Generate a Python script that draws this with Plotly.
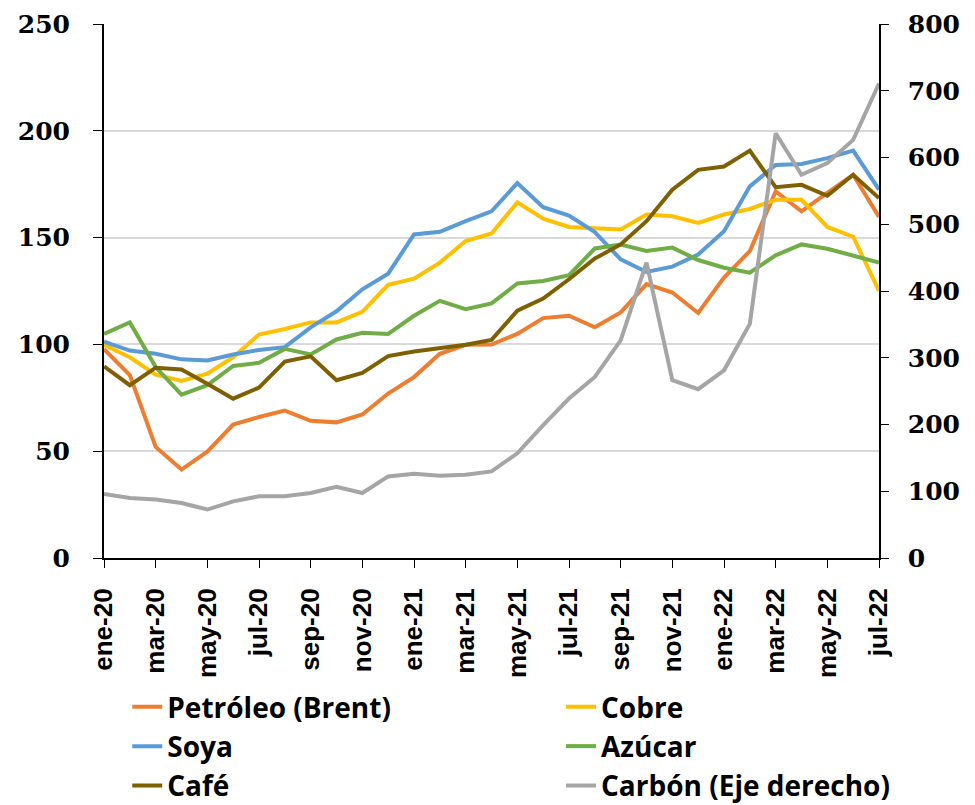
import plotly.graph_objects as go

months = ["ene", "feb", "mar", "abr", "may", "jun", "jul", "ago", "sep", "oct", "nov", "dic"]
categories = [f"{m}-{y}" for y in ["20", "21", "22"] for m in months][:31]

petroleo = [97.8, 85.6, 52.0, 41.4, 49.8, 62.5, 66.0, 69.0, 64.2, 63.5, 67.2, 77.0, 84.7, 95.6, 99.8, 99.9,
            104.9, 112.3, 113.4, 108.0, 115.0, 128.2, 124.3, 114.7, 131.3, 143.7, 171.6, 162.3, 170.9, 179.4, 159.7]
cobre = [99.8, 94.0, 85.8, 82.9, 86.3, 94.0, 104.6, 107.2, 110.3, 110.3, 115.2, 127.9, 130.8, 138.3, 148.4, 151.9,
         166.5, 158.9, 155.0, 154.3, 153.8, 160.8, 160.0, 156.9, 160.8, 163.4, 167.7, 167.7, 155.0, 150.4, 125.1]
soya = [101.3, 97.1, 95.6, 93.0, 92.5, 95.3, 97.4, 98.7, 108.0, 115.5, 125.8, 133.1, 151.5, 152.7, 157.7, 162.3,
        175.5, 164.2, 160.3, 152.6, 139.8, 133.9, 136.4, 142.1, 153.0, 174.0, 184.0, 184.5, 187.2, 190.7, 172.4]
azucar = [104.9, 110.3, 89.4, 76.5, 80.9, 89.9, 91.4, 97.9, 95.3, 102.3, 105.4, 104.9, 113.4, 120.4, 116.5, 119.2,
          128.5, 129.7, 132.4, 144.9, 146.8, 143.7, 145.3, 139.5, 135.9, 133.6, 141.7, 146.8, 144.8, 141.4, 138.3]
cafe = [89.7, 80.9, 89.1, 88.3, 81.6, 74.6, 79.8, 92.0, 94.4, 83.2, 86.7, 94.5, 96.7, 98.2, 99.8, 102.1,
        115.8, 121.5, 130.5, 140.2, 146.8, 157.7, 172.4, 181.7, 183.3, 190.7, 173.6, 174.7, 169.6, 179.4, 168.5]
carbon = [95.8, 89.9, 87.5, 82.4, 72.6, 84.9, 92.4, 92.4, 97.3, 106.5, 97.3, 122.2, 126.2, 123.2, 124.7, 129.7,
          156.9, 199.2, 238.9, 271.2, 325.9, 442.6, 266.3, 252.9, 281.2, 350.7, 636.4, 574.2, 591.7, 626.4, 710.9]

tick_labels = categories[::2]
left_ticks = [0, 50, 100, 150, 200, 250]
right_ticks = [0, 100, 200, 300, 400, 500, 600, 700, 800]

series = [
    ("Petróleo (Brent)", petroleo, "#ED7D31", "y", "legend"),
    ("Cobre", cobre, "#FFC000", "y", "legend2"),
    ("Soya", soya, "#5B9BD5", "y", "legend"),
    ("Azúcar", azucar, "#70AD47", "y", "legend2"),
    ("Café", cafe, "#7F6000", "y", "legend"),
    ("Carbón (Eje derecho)", carbon, "#A5A5A5", "y2", "legend2"),
]

fig = go.Figure()
for name, vals, color, ax, lg in series:
    fig.add_trace(go.Scatter(x=categories, y=vals, name=name, mode="lines",
                             line=dict(color=color, width=4), yaxis=ax, legend=lg))

tick_font = dict(family="DejaVu Serif", size=25, color="black", weight="bold")
legend_font = dict(family="Open Sans", size=28, color="black", weight="bold")
legend_common = dict(orientation="v", y=0.1627, yref="container", xanchor="left", yanchor="top",
                     font=legend_font, tracegroupgap=0, traceorder="normal",
                     bgcolor="rgba(0,0,0,0)", itemwidth=30)

fig.update_layout(
    width=975, height=805,
    margin=dict(l=96, r=104, t=16, b=255),
    plot_bgcolor="white", paper_bgcolor="white",
    showlegend=True,
    legend=dict(legend_common, x=0.030),
    legend2=dict(legend_common, x=0.5897),
    xaxis=dict(type="category", range=[0, 30], tickmode="array", tickvals=tick_labels, ticktext=tick_labels,
               tickangle=-90, ticks="outside", ticklen=8, tickcolor="black", ticklabelstandoff=10,
               automargin=False,
               showline=True, linecolor="black", linewidth=2, showgrid=False,
               tickfont=dict(family="Liberation Sans", size=26, color="black", weight="bold")),
    yaxis=dict(range=[0, 250], tickvals=left_ticks, ticks="outside", ticklen=9, tickcolor="black",
               ticklabelstandoff=18, ticklabeloverflow="allow", automargin=False,
               showline=True, linecolor="black", linewidth=2, showgrid=True, gridcolor="#D9D9D9", gridwidth=1.5,
               zeroline=False, tickfont=tick_font),
    yaxis2=dict(range=[0, 800], tickvals=right_ticks, overlaying="y", side="right", ticks="outside", ticklen=8,
                tickcolor="black", ticklabelstandoff=14, ticklabeloverflow="allow", automargin=False,
                showline=True, linecolor="black", linewidth=1.5, showgrid=False,
                zeroline=False, tickfont=tick_font),
)

fig.write_html("out.html")
